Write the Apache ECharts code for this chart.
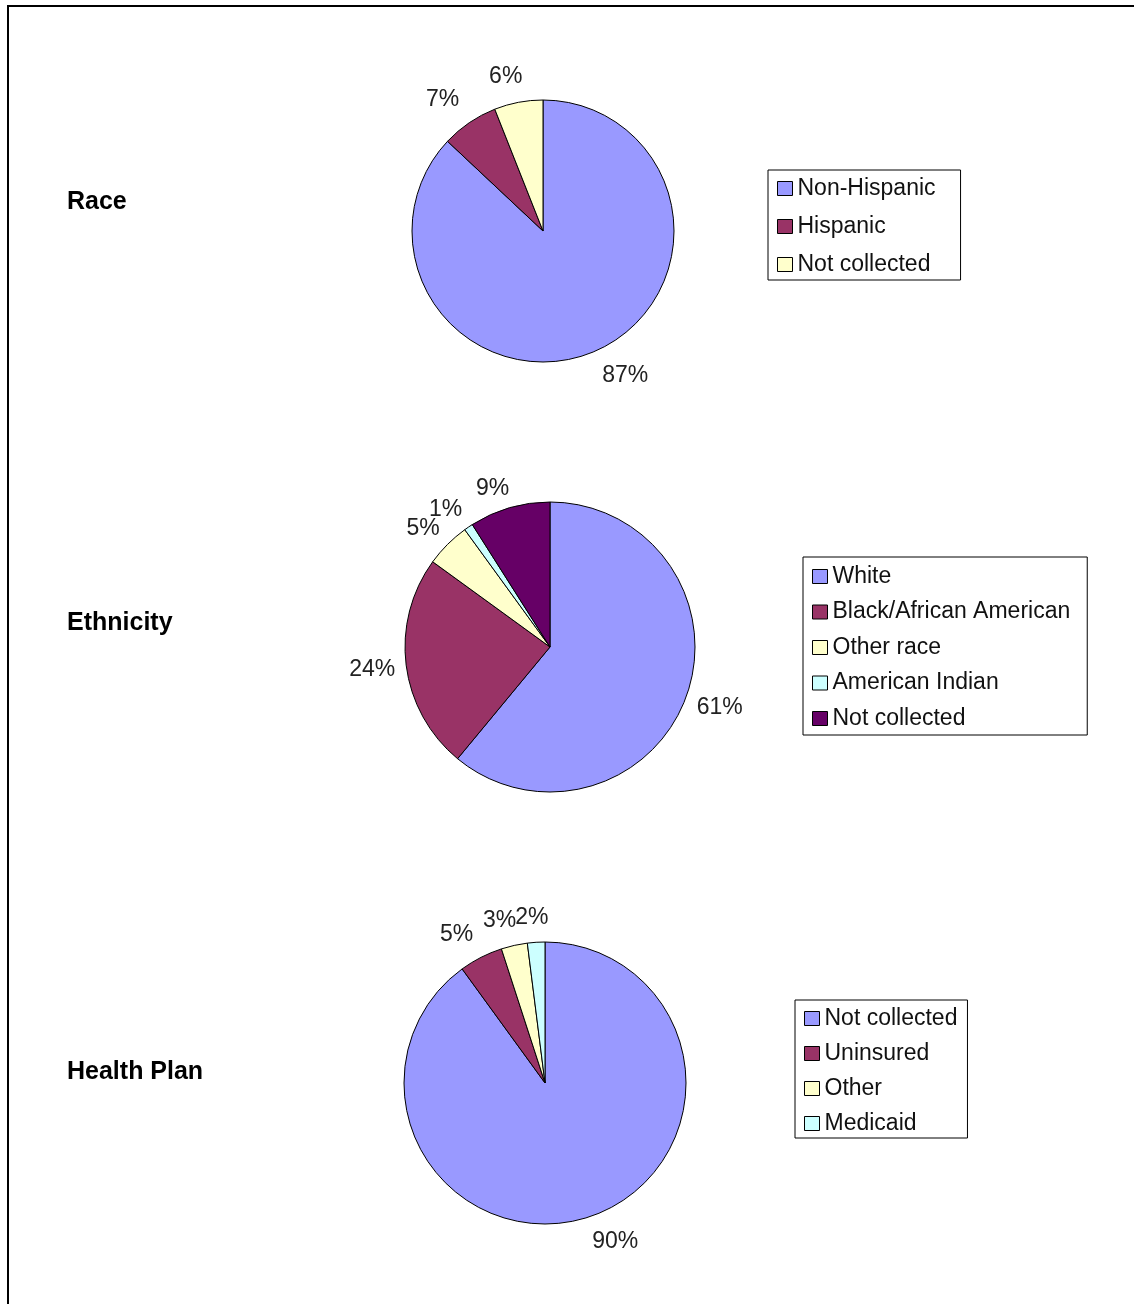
<!DOCTYPE html>
<html>
<head>
<meta charset="utf-8">
<script src="https://cdn.jsdelivr.net/npm/echarts@6/dist/echarts.min.js"></script>
<style>
  html, body { margin: 0; padding: 0; background: #fff; overflow: hidden; }
  #frame { position: absolute; left: 7px; top: 5px; width: 1300px; height: 1400px; border: 2px solid #000; }
  #chart { position: absolute; left: 0; top: 0; width: 1134px; height: 1304px; }
</style>
</head>
<body>
<div id="frame"></div>
<div id="chart"></div>
<script>
const raceNames = ['Non-Hispanic', 'Hispanic', 'Not collected']
const raceValues = [87, 7, 6]
const raceColors = ['#9999FF', '#993366', '#FFFFCC']

const ethnicityNames = ['White', 'Black/African American', 'Other race', 'American Indian', 'Not collected']
const ethnicityValues = [61, 24, 5, 1, 9]
const ethnicityColors = ['#9999FF', '#993366', '#FFFFCC', '#CCFFFF', '#660066']

const planNames = ['Not collected', 'Uninsured', 'Other', 'Medicaid']
const planValues = [90, 5, 3, 2]
const planColors = ['#9999FF', '#993366', '#FFFFCC', '#CCFFFF']

const sectionTitles = ['Race', 'Ethnicity', 'Health Plan']

const font = "'Liberation Sans', Arial, sans-serif"

// place each label just outside the rim, like Excel does
function outerLabel(params) {
  const pts = params.labelLinePoints
  if (!pts) return {}
  const ddx = pts[1][0] - pts[0][0]
  const ddy = pts[1][1] - pts[0][1]
  const len = Math.hypot(ddx, ddy) || 1
  const k = (v) => Math.max(-1, Math.min(1, (v / len) * 3))
  const w = params.labelRect.width
  const h = params.labelRect.height * 0.7
  return {
    x: pts[1][0] + k(ddx) * w / 2,
    y: pts[1][1] + k(ddy) * h / 2,
    align: 'center',
    verticalAlign: 'middle',
  }
}

function pieSeries(names, values, colors, center, radius, lineLen) {
  return {
    type: 'pie',
    center,
    radius,
    startAngle: 90,
    clockwise: true,
    avoidLabelOverlap: false,
    silent: true,
    itemStyle: { borderColor: '#000', borderWidth: 1 },
    label: {
      show: true,
      position: 'outside',
      formatter: '{c}%',
      fontFamily: font,
      fontSize: 23,
      color: '#222',
      distanceToLabelLine: 0,
    },
    labelLine: { show: true, length: lineLen, length2: 0, lineStyle: { opacity: 0 } },
    labelLayout: outerLabel,
    data: names.map((n, i) => ({ name: n, value: values[i], itemStyle: { color: colors[i] } })),
  }
}

function legendBox(names, colors, left, top, gap, padding) {
  return {
    orient: 'vertical',
    left,
    top,
    padding,
    itemGap: gap,
    itemWidth: 15,
    itemHeight: 14,
    icon: 'rect',
    borderColor: '#000',
    borderWidth: 1,
    selectedMode: false,
    itemStyle: { borderColor: '#000', borderWidth: 1 },
    textStyle: { fontFamily: font, fontSize: 23, lineHeight: 23, color: '#111' },
    data: names.map((n, i) => ({ name: n, itemStyle: { color: colors[i] } })),
  }
}

const chart = echarts.init(document.getElementById('chart'))

const titleTops = [190, 611, 1060]

chart.setOption({
  backgroundColor: 'transparent',
  animation: false,
  title: sectionTitles.map((t, i) => ({
    text: t,
    left: 67,
    top: titleTops[i],
    padding: 0,
    textStyle: { fontFamily: font, fontSize: 25, fontWeight: 'bold', color: '#000' },
  })),
  legend: [
    legendBox(raceNames, raceColors, 768, 170, 15, [7, 25, 4, 9]),
    legendBox(ethnicityNames, ethnicityColors, 803, 557, 12.5, [8, 17, 5, 9]),
    legendBox(planNames, planColors, 795, 1000, 12, [7, 10, 3, 9]),
  ],
  series: [
    pieSeries(raceNames, raceValues, raceColors, [543, 231], 131, 18),
    pieSeries(ethnicityNames, ethnicityValues, ethnicityColors, [550, 647], 145, 11),
    pieSeries(planNames, planValues, planColors, [545, 1083], 141, 17),
  ],
})
</script>
</body>
</html>
